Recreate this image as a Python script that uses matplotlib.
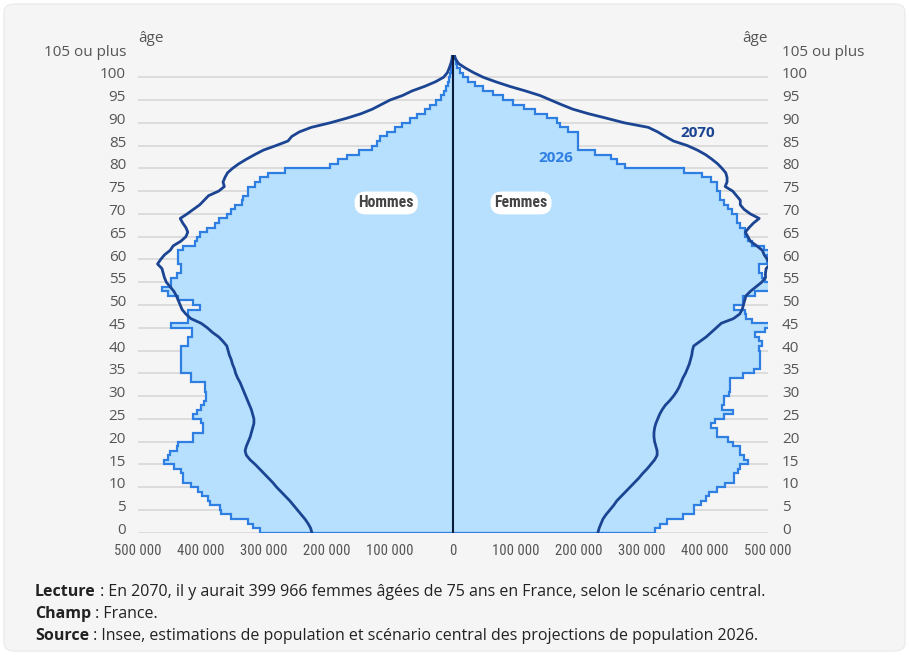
import numpy as np
import matplotlib
matplotlib.use("Agg")
import matplotlib.pyplot as plt
from matplotlib.patches import FancyBboxPatch
from matplotlib import font_manager as fm

# ---------------- data (thousands of persons) ----------------
ages = list(range(0, 106))

men_2026 = [307, 318, 326, 353, 368, 370, 385, 389, 398, 404,
            416, 429, 429, 432, 443, 459, 452, 450, 438, 436,
            412, 412, 397, 397, 400, 412, 406, 400, 396, 392,
            392, 394, 394, 416, 416, 431, 431, 431, 431, 431,
            431, 421, 421, 415, 415, 448, 420, 420, 420, 401,
            412, 436, 452, 462, 448, 448, 438, 432, 432, 437,
            437, 437, 428, 410, 407, 401, 391, 378, 372, 358,
            353, 346, 335, 333, 326, 326, 315, 307, 294, 267,
            195, 182, 169, 149, 129, 121, 116, 105, 92, 81,
            68, 57, 44, 36, 27, 19, 15, 11, 8.5, 6,
            4, 3, 2, 1.2, 0.8, 0.5]

women_2026 = [320, 328, 339, 365, 382, 382, 394, 401, 406, 419,
              431, 446, 446, 452, 455, 468, 462, 456, 456, 444,
              436, 419, 419, 410, 416, 430, 444, 427, 430, 430,
              438, 440, 440, 440, 460, 477, 487, 488, 488, 487,
              485, 491, 485, 480, 496, 507, 475, 465, 463, 446,
              460, 460, 480, 509, 509, 496, 491, 485, 485, 499,
              499, 501, 493, 475, 468, 464, 464, 456, 451, 451,
              443, 436, 430, 424, 424, 419, 419, 409, 395, 366,
              273, 260, 250, 226, 199, 199, 199, 199, 183, 170,
              165, 149, 130, 112, 96, 80, 64, 48, 35, 24,
              16, 11, 7, 4, 2, 0.5]

men_2070 = [224, 226, 230, 235, 241, 247, 253, 259, 266, 273,
            280, 286, 293, 300, 307, 314, 322, 328, 330, 328,
            325, 322, 320, 318, 316, 316, 318, 320, 323, 326,
            329, 332, 335, 338, 342, 345, 347, 350, 352, 355,
            357, 359, 365, 372, 382, 390, 400, 416, 424, 430,
            433, 436, 439, 443, 449, 455, 458, 460, 462, 469,
            464, 458, 449, 444, 432, 424, 421, 424, 429, 433,
            422, 412, 402, 395, 388, 372, 363, 365, 362, 358,
            350, 340, 328, 315, 301, 281, 262, 256, 244, 225,
            195, 169, 146, 128, 114, 100, 80, 65, 45, 28,
            15, 9, 6, 3.5, 1.5, 0.5]

women_2070 = [230, 232, 235, 238, 243, 249, 255, 260, 267, 274,
              281, 288, 295, 301, 308, 314, 320, 324, 324, 322,
              320, 319, 319, 320, 322, 325, 328, 332, 337, 344,
              350, 355, 359, 362, 365, 369, 372, 375, 377, 379,
              380, 382, 392, 402, 410, 418, 426, 445, 455, 459,
              461, 463, 465, 472, 481, 490, 496, 496, 497, 504,
              499, 494, 491, 482, 472, 468, 464, 470, 477, 486,
              472, 462, 456, 456, 450, 444, 432, 435, 435, 433,
              427, 420, 411, 401, 388, 372, 350, 337, 325, 310,
              272, 244, 215, 190, 172, 155, 138, 115, 90, 68,
              48, 33, 20, 9, 4, 2]

age_ticks = list(range(0, 106, 5))
age_tick_labels = [str(a) for a in range(0, 105, 5)] + ["105 ou plus"]
x_ticks = [-500000, -400000, -300000, -200000, -100000, 0,
           100000, 200000, 300000, 400000, 500000]
x_tick_labels = ["500 000", "400 000", "300 000", "200 000", "100 000", "0",
                 "100 000", "200 000", "300 000", "400 000", "500 000"]

# ---------------- styling ----------------
W, H = 909, 655
BG = "#f5f5f5"
FILL = "#b6e0fd"
EDGE = "#2f7fe3"
DARK = "#1b4593"
AXIS = "#0c1a3a"
GRID = "#d8d8d8"
TXT = "#555555"


def pick(cands):
    for c in cands:
        try:
            fm.findfont(fm.FontProperties(family=c), fallback_to_default=False)
            return c
        except Exception:
            pass
    return None


narrow = pick(["Liberation Sans Narrow", "DejaVu Sans Condensed", "Roboto Condensed",
               "Open Sans Condensed", "Noto Sans Condensed", "Arial Narrow",
               "Nimbus Sans Narrow"])
if narrow:
    NARROW_FAM, XSIZE, LBLSIZE = [narrow, "DejaVu Sans"], 10.5, 11.3
else:
    NARROW_FAM, XSIZE, LBLSIZE = ["Roboto", "DejaVu Sans"], 9.3, 10.3

plt.rcParams["font.family"] = ["Open Sans", "DejaVu Sans"]

fig = plt.figure(figsize=(W / 100, H / 100), dpi=100)
fig.patch.set_facecolor("white")
panel = FancyBboxPatch((4 / W, 4 / H), (W - 8) / W, (H - 8) / H,
                       boxstyle="round,pad=0,rounding_size=0.012",
                       transform=fig.transFigure, facecolor=BG,
                       edgecolor="#ececec", linewidth=1, zorder=-10)
fig.patches.append(panel)

ax_l, ax_r = 138 / W, 768 / W
ax_b, ax_t = 1 - 532.7 / H, 1 - 54.5 / H
ax = fig.add_axes([ax_l, ax_b, ax_r - ax_l, ax_t - ax_b], zorder=2)
ax.set_facecolor("none")
ax.set_xlim(-500000, 500000)
ax.set_ylim(0, 105)

for a in age_ticks:
    ax.axhline(a, color=GRID, lw=1.2, zorder=1)

m26 = -np.array(men_2026) * 1000
w26 = np.array(women_2026) * 1000
m70 = -np.array(men_2070) * 1000
w70 = np.array(women_2070) * 1000
edges = np.arange(0, len(ages) + 1)

for vals in (m26, w26):
    ax.stairs(vals, edges, orientation="horizontal", fill=True,
              color=FILL, lw=0, zorder=2)
    ax.stairs(vals, edges, orientation="horizontal", fill=False,
              color=EDGE, lw=1.6, zorder=3)

ax.plot(m70, ages, color=DARK, lw=2.0, zorder=4, solid_joinstyle="round")
ax.plot(w70, ages, color=DARK, lw=2.0, zorder=4, solid_joinstyle="round")
ax.plot([0, 0], [0, 105], color=AXIS, lw=1.5, zorder=5)

for s in ax.spines.values():
    s.set_visible(False)

# age labels on both sides (drawn as text, slightly above the grid lines)
ax.set_yticks([])
for a, lab in zip(age_ticks, age_tick_labels):
    ax.annotate(lab, xy=(0, a), xycoords=("axes fraction", "data"),
                xytext=(-8.6, 1.7), textcoords="offset points",
                ha="right", va="center", fontsize=11, color=TXT,
                annotation_clip=False)
    ax.annotate(lab, xy=(1, a), xycoords=("axes fraction", "data"),
                xytext=(10, 1.7), textcoords="offset points",
                ha="left", va="center", fontsize=11, color=TXT,
                annotation_clip=False)

ax.set_xticks(x_ticks)
ax.set_xticklabels(x_tick_labels, fontfamily=NARROW_FAM)
ax.tick_params(axis="x", length=0, pad=8, labelsize=XSIZE, labelcolor=TXT)

ax.text(-500000, 108.6, "âge", ha="left", va="center",
        fontsize=11, color=TXT, clip_on=False)
ax.text(500000, 108.6, "âge", ha="right", va="center",
        fontsize=11, color=TXT, clip_on=False)

# annotations
ax.text(388000, 87.7, "2070", color=DARK, fontsize=11, fontweight="bold",
        ha="center", va="center")
ax.text(163000, 82.3, "2026", color=EDGE, fontsize=11, fontweight="bold",
        ha="center", va="center")
box = dict(boxstyle="round,pad=0.25,rounding_size=0.7", fc="white", ec="none")
ax.text(-106000, 72.4, "Hommes", color="#444444", fontsize=LBLSIZE, fontweight="bold",
        ha="center", va="center", bbox=box, zorder=6, fontfamily=NARROW_FAM)
ax.text(108000, 72.4, "Femmes", color="#444444", fontsize=LBLSIZE, fontweight="bold",
        ha="center", va="center", bbox=box, zorder=6, fontfamily=NARROW_FAM)

# footnotes
notes = [("Lecture", " : En 2070, il y aurait 399 966 femmes âgées de 75 ans en France, selon le scénario central."),
         ("Champ", " : France."),
         ("Source", " : Insee, estimations de population et scénario central des projections de population 2026.")]
fig.canvas.draw()
r = fig.canvas.get_renderer()
for i, (b, rest) in enumerate(notes):
    y = 1 - (592 + 22 * i) / H
    t = fig.text(35 / W, y, b, fontsize=11.5, fontweight="bold", color="#222222",
                 ha="left", va="center")
    bb = t.get_window_extent(renderer=r)
    fig.text(bb.x1 / W, y, rest, fontsize=11.5, color="#222222",
             ha="left", va="center")

fig.savefig("out.png", dpi=100, facecolor=fig.get_facecolor())
